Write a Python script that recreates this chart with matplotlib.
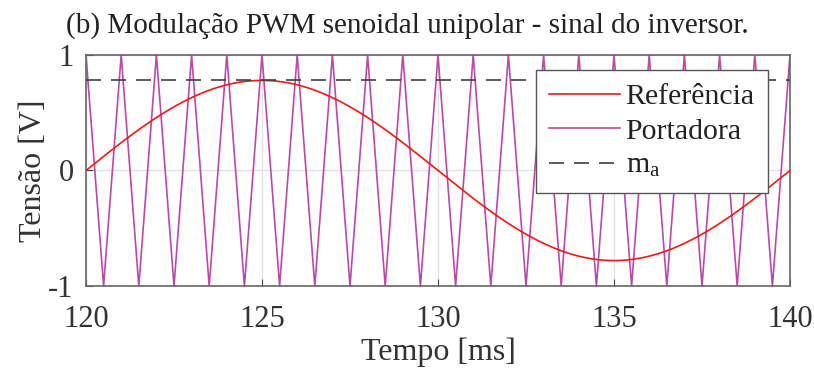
import numpy as np
import matplotlib
matplotlib.use('Agg')
import matplotlib.pyplot as plt

plt.rcParams['font.family'] = ['Liberation Serif', 'DejaVu Serif']
plt.rcParams['mathtext.fontset'] = 'custom'
plt.rcParams['mathtext.rm'] = 'Liberation Serif'
plt.rcParams['mathtext.it'] = 'Liberation Serif'

# sinal de referencia (50 Hz) e portadora triangular (1 kHz)
ma = 0.78
f_ref = 50.0          # Hz
t_ini, t_fim = 120.0, 140.0   # ms
portadora_t = [120.0, 120.5, 121.0, 121.5, 122.0, 122.5, 123.0, 123.5, 124.0, 124.5,
               125.0, 125.5, 126.0, 126.5, 127.0, 127.5, 128.0, 128.5, 129.0, 129.5,
               130.0, 130.5, 131.0, 131.5, 132.0, 132.5, 133.0, 133.5, 134.0, 134.5,
               135.0, 135.5, 136.0, 136.5, 137.0, 137.5, 138.0, 138.5, 139.0, 139.5, 140.0]
portadora_v = [1, -1, 1, -1, 1, -1, 1, -1, 1, -1,
               1, -1, 1, -1, 1, -1, 1, -1, 1, -1,
               1, -1, 1, -1, 1, -1, 1, -1, 1, -1,
               1, -1, 1, -1, 1, -1, 1, -1, 1, -1, 1]
xticks = [120, 125, 130, 135, 140]
yticks = [-1, 0, 1]

t = np.linspace(t_ini, t_fim, 2001)
ref = ma * np.sin(2 * np.pi * f_ref * t * 1e-3)

fig = plt.figure(figsize=(8.14, 3.74), dpi=100)
ax = fig.add_axes([86/814, 1 - 286/374, 704/814, 231/374])

ax.plot(t, ref, color='#f01818', lw=1.2, label='Referência', zorder=3)
ax.plot(portadora_t, portadora_v, color='#b94aa8', lw=1.2, label='Portadora', zorder=2)
ax.plot([t_ini, t_fim], [ma, ma], color='#404040', lw=1.2, ls=(0, (9, 6)),
        label='m$_\\mathrm{a}$', zorder=4)

ax.set_xlim(t_ini, t_fim)
ax.set_ylim(-1, 1)
ax.set_xticks(xticks)
ax.set_yticks(yticks)
ax.set_yticklabels(['-1', '0', '1'])
ax.grid(True, color='#e3e3e3', lw=1.0)
ax.set_axisbelow(True)
ax.tick_params(direction='in', length=5, color='#444444', labelsize=22,
               labelcolor='#333333', top=False, right=False)
ax.tick_params(axis='x', pad=14)
ax.tick_params(axis='y', pad=9)
for s in ax.spines.values():
    s.set_color('#666666')
    s.set_linewidth(1.2)

ax.set_xlabel('Tempo [ms]', fontsize=23, color='#333333', labelpad=2)
ax.set_ylabel('Tensão [V]', fontsize=23, color='#333333', labelpad=0)
fig.text(0.5, 1 - 33/374, '(b) Modulação PWM senoidal unipolar - sinal do inversor.',
         fontsize=21, color='#222222', ha='center', va='baseline')

leg = ax.legend(loc='upper right', bbox_to_anchor=(0.969, 0.935), fontsize=21.5,
                handlelength=2.35, handletextpad=0.2, borderpad=0.45,
                labelspacing=0.25, borderaxespad=0, fancybox=False, framealpha=1)
leg.get_frame().set_edgecolor('#555555')
leg.get_frame().set_linewidth(1.0)
for txt in leg.get_texts():
    txt.set_color('#222222')

fig.savefig('out.png', dpi=100)
